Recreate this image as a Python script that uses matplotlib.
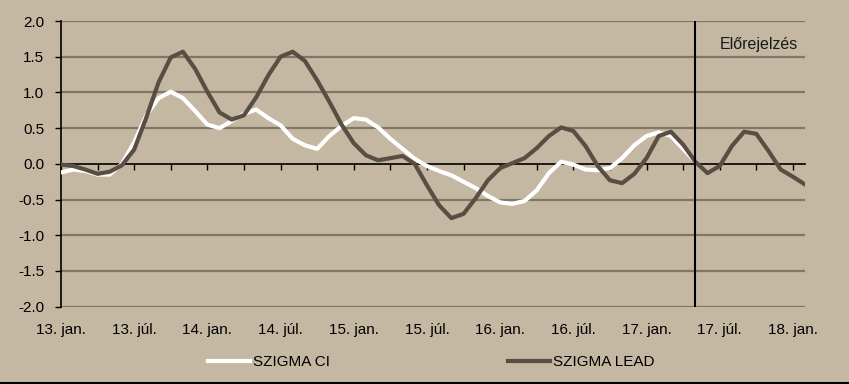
import matplotlib.pyplot as plt
from matplotlib.lines import Line2D

# monthly values, 2013 jan - 2018 feb
szigma_lead = [-0.01, -0.03, -0.08, -0.14, -0.11, -0.02, 0.20, 0.65, 1.14, 1.49,
               1.57, 1.33, 1.01, 0.72, 0.62, 0.68, 0.93, 1.24, 1.50, 1.57,
               1.44, 1.17, 0.87, 0.55, 0.29, 0.12, 0.05, 0.08, 0.11, 0.00,
               -0.30, -0.58, -0.76, -0.70, -0.48, -0.23, -0.06, 0.01, 0.08, 0.22,
               0.39, 0.51, 0.46, 0.25, -0.03, -0.23, -0.27, -0.14, 0.08, 0.39,
               0.45, 0.27, 0.03, -0.13, -0.03, 0.25, 0.45, 0.42, 0.18, -0.08,
               -0.18, -0.29]
szigma_ci = [-0.12, -0.08, -0.10, -0.15, -0.15, 0.00, 0.30, 0.68, 0.92, 1.01,
             0.92, 0.74, 0.55, 0.50, 0.60, 0.70, 0.76, 0.64, 0.54, 0.35,
             0.26, 0.21, 0.39, 0.53, 0.64, 0.62, 0.51, 0.35, 0.21, 0.07,
             -0.03, -0.10, -0.16, -0.25, -0.34, -0.45, -0.54, -0.56, -0.52, -0.37,
             -0.13, 0.03, -0.01, -0.08, -0.09, -0.06, 0.08, 0.26, 0.39, 0.44,
             0.39, 0.21, 0.03]
tick_labels = ['13. jan.', '13. júl.', '14. jan.', '14. júl.', '15. jan.', '15. júl.',
               '16. jan.', '16. júl.', '17. jan.', '17. júl.', '18. jan.']
forecast_start = 52

bg = '#C4B8A2'
grid_col = '#807767'
lead_col = '#5A4E44'

plt.rcParams['font.family'] = ['Liberation Sans', 'DejaVu Sans']
plt.rcParams['font.size'] = 11

fig = plt.figure(figsize=(8.49, 3.84), dpi=100, facecolor=bg)
ax = fig.add_axes([0.0718, 0.2013, 0.8765, 0.744])
ax.set_facecolor(bg)

for y in [-2.0, -1.5, -1.0, -0.5, 0.5, 1.0, 1.5, 2.0]:
    ax.axhline(y, color=grid_col, lw=1.6, zorder=0)

ax.plot(range(len(szigma_ci)), szigma_ci, color='white', lw=3, label='SZIGMA CI', zorder=3)
ax.plot(range(len(szigma_lead)), szigma_lead, color=lead_col, lw=3, label='SZIGMA LEAD', zorder=4)
ax.plot([forecast_start, forecast_start], [-2.0, 2.0], color='black', lw=1.5, zorder=5)
ax.text(0.9375, 0.918, 'Előrejelzés', transform=ax.transAxes, ha='center', va='center',
        fontsize=11.5, color='#1a1a1a')

ax.set_xlim(0, 61)
ax.set_ylim(-2.0, 2.0)
ax.set_yticks([-2.0, -1.5, -1.0, -0.5, 0.0, 0.5, 1.0, 1.5, 2.0])
ax.set_yticklabels([f'{v:.1f}' for v in ax.get_yticks()])
ax.tick_params(axis='y', direction='out', length=4, width=1, pad=8, colors='black')

ax.spines['top'].set_visible(False)
ax.spines['right'].set_visible(False)
ax.spines['bottom'].set_position(('data', 0))
ax.spines['left'].set_linewidth(1.2)
ax.spines['bottom'].set_linewidth(1.2)
ax.set_xticks(range(0, 61, 3))
ax.set_xticklabels([])
ax.tick_params(axis='x', direction='out', length=4, width=1)

sec = ax.secondary_xaxis(0)
sec.set_xticks(range(0, 61, 6))
sec.set_xticklabels(tick_labels)
sec.tick_params(length=0, pad=12)
sec.spines['bottom'].set_visible(False)

fig.legend(loc='center', bbox_to_anchor=(0.508, 0.057), ncol=2, frameon=False,
           handlelength=2.75, handletextpad=0.2, columnspacing=11.6, fontsize=11)

fig.add_artist(Line2D([0, 1], [0.002, 0.002], color='black', lw=1.5, transform=fig.transFigure))

fig.savefig('out.png', dpi=100, facecolor=bg)
